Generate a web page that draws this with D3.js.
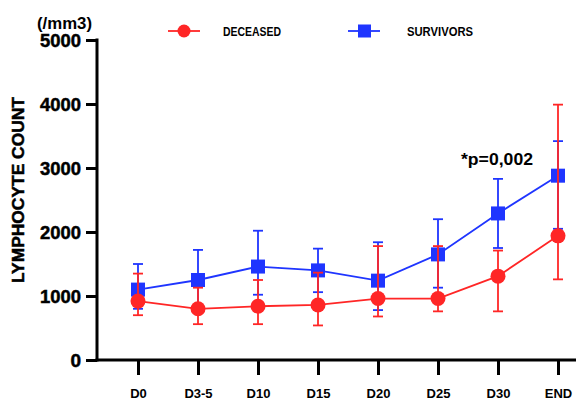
<!DOCTYPE html>
<html><head><meta charset="utf-8">
<script src="https://cdn.jsdelivr.net/npm/d3@7"></script>
<style>body{margin:0;background:#fff}svg{display:block}text{font-family:"Liberation Sans",Arial,sans-serif;font-weight:bold;fill:#000}.heavy{stroke:#000;stroke-width:0.5px}</style>
</head><body><svg id="c" width="576" height="400"></svg>
<script>
const categories = ["D0","D3-5","D10","D15","D20","D25","D30","END"];
const survivorsMean = [1100,1250,1460,1400,1240,1650,2290,2880];
const survivorsLow  = [800,780,1020,1060,780,1130,1750,2050];
const survivorsHigh = [1500,1720,2020,1740,1840,2200,2830,3420];
const deceasedMean = [920,800,840,860,960,960,1310,1940];
const deceasedLow  = [700,560,560,540,680,760,760,1260];
const deceasedHigh = [1350,1130,1250,1365,1780,1780,1710,3990];
const yTicks = [0,1000,2000,3000,4000,5000];

const svg = d3.select("#c");
const x = d3.scalePoint().domain(categories).range([138,558]);
const y = d3.scaleLinear().domain([0,5000]).range([360,40]);
const RED = "#ff2626", BLUE = "#1f35ff";

// axes
const yAx = svg.append("g").attr("transform","translate(97,0)")
  .call(d3.axisLeft(y).tickValues(yTicks).tickFormat(d3.format("d")).tickSize(11).tickSizeOuter(0).tickPadding(5));
yAx.select(".domain").remove();
yAx.selectAll(".tick line").attr("stroke","#000").attr("stroke-width",3);
yAx.selectAll(".tick text").style("font-size","19px").attr("fill","#000").attr("dy","0.36em").attr("class","heavy")
  .attr("textLength",41).attr("lengthAdjust","spacingAndGlyphs");
yAx.selectAll(".tick text").filter(d=>d===0).attr("textLength",null);
svg.append("line").attr("x1",97).attr("x2",97).attr("y1",y(5000)-1.5).attr("y2",y(0)+1.5).attr("stroke","#000").attr("stroke-width",3);

const xAx = svg.append("g").attr("transform","translate(0,360)")
  .call(d3.axisBottom(x).tickSize(15).tickSizeOuter(0).tickPadding(14));
xAx.select(".domain").remove();
xAx.selectAll(".tick line").attr("stroke","#000").attr("stroke-width",3);
xAx.selectAll(".tick text").style("font-size","13px").attr("fill","#000");
svg.append("line").attr("x1",95.5).attr("x2",576).attr("y1",360).attr("y2",360).attr("stroke","#000").attr("stroke-width",3);

function series(mean, low, high, color, shape){
  const g = svg.append("g");
  const idx = d3.range(categories.length);
  g.selectAll(".eb").data(idx).join("line")
    .attr("x1",i=>x(categories[i])).attr("x2",i=>x(categories[i]))
    .attr("y1",i=>y(low[i])).attr("y2",i=>y(high[i]))
    .attr("stroke",color).attr("stroke-width",1.8);
  [low,high].forEach(arr=>{
    g.selectAll(null).data(idx).join("line")
      .attr("x1",i=>x(categories[i])-5).attr("x2",i=>x(categories[i])+5)
      .attr("y1",i=>y(arr[i])).attr("y2",i=>y(arr[i]))
      .attr("stroke",color).attr("stroke-width",1.8);
  });
  g.append("path").datum(idx)
    .attr("d",d3.line().x(i=>x(categories[i])).y(i=>y(mean[i])))
    .attr("fill","none").attr("stroke",color).attr("stroke-width",1.8);
  if(shape==="circle"){
    g.selectAll(".m").data(idx).join("circle")
      .attr("cx",i=>x(categories[i])).attr("cy",i=>y(mean[i])).attr("r",7.5).attr("fill",color);
  } else {
    g.selectAll(".m").data(idx).join("rect")
      .attr("x",i=>x(categories[i])-7).attr("y",i=>y(mean[i])-7).attr("width",14).attr("height",14).attr("fill",color);
  }
}
series(survivorsMean,survivorsLow,survivorsHigh,BLUE,"square");
series(deceasedMean,deceasedLow,deceasedHigh,RED,"circle");

// legend
svg.append("line").attr("x1",168).attr("x2",200).attr("y1",31).attr("y2",31).attr("stroke",RED).attr("stroke-width",1.8);
svg.append("circle").attr("cx",184).attr("cy",31).attr("r",6.5).attr("fill",RED);
svg.append("text").attr("x",223).attr("y",35.5).style("font-size","12.5px").attr("textLength",58).attr("lengthAdjust","spacingAndGlyphs").text("DECEASED");
svg.append("line").attr("x1",348).attr("x2",380).attr("y1",31).attr("y2",31).attr("stroke",BLUE).attr("stroke-width",1.8);
svg.append("rect").attr("x",358).attr("y",24.5).attr("width",13).attr("height",13).attr("fill",BLUE);
svg.append("text").attr("x",407).attr("y",35.5).style("font-size","12.5px").attr("textLength",66).attr("lengthAdjust","spacingAndGlyphs").text("SURVIVORS");

// labels
svg.append("text").attr("x",37).attr("y",29).style("font-size","16px").attr("textLength",55).attr("lengthAdjust","spacingAndGlyphs").text("(/mm3)");
svg.append("text").attr("transform","translate(24,190) rotate(-90)").attr("text-anchor","middle").attr("class","heavy")
  .style("font-size","16px").attr("textLength",186).attr("lengthAdjust","spacingAndGlyphs").text("LYMPHOCYTE COUNT");
svg.append("text").attr("x",461).attr("y",165).style("font-size","17px").attr("textLength",72).attr("lengthAdjust","spacingAndGlyphs").text("*p=0,002");
</script></body></html>
